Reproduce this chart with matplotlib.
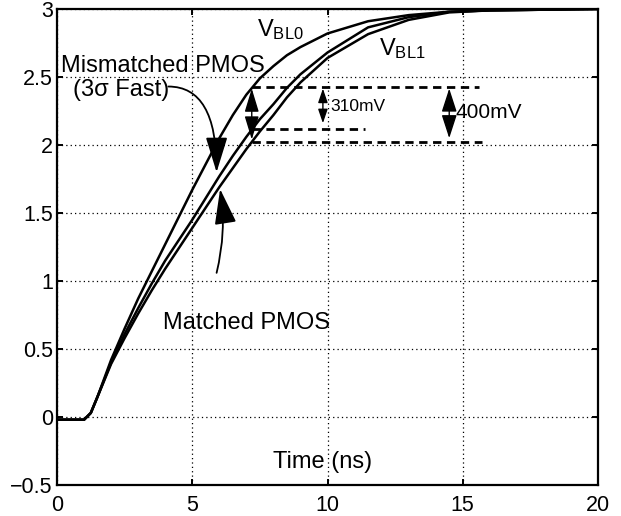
import matplotlib
matplotlib.use("Agg")
import matplotlib.pyplot as plt

plt.rcParams['font.family'] = ['Liberation Sans', 'DejaVu Sans']
plt.rcParams['mathtext.fontset'] = 'custom'
plt.rcParams['mathtext.rm'] = 'Liberation Sans'
plt.rcParams['mathtext.it'] = 'Liberation Sans:italic'
plt.rcParams['axes.unicode_minus'] = True

# ---- data ----
time_ns = [0, 0.5, 1.0, 1.25, 1.5, 2.0, 2.5, 3.0, 3.5, 4.0, 4.5, 5.0, 5.5, 6.0,
           6.5, 7.0, 7.5, 8.0, 8.5, 9.0, 10.0, 11.5, 13.0, 14.5, 16.0, 18.0, 20.0]
v_mismatched = [-0.02, -0.02, -0.02, 0.03, 0.15, 0.42, 0.65, 0.87, 1.07, 1.27, 1.47,
                1.67, 1.86, 2.05, 2.22, 2.37, 2.49, 2.58, 2.66, 2.72, 2.82, 2.91,
                2.955, 2.98, 2.99, 2.995, 3.0]
v_matched_bl0 = [-0.02, -0.02, -0.02, 0.03, 0.15, 0.40, 0.61, 0.80, 0.98, 1.15, 1.30,
                 1.45, 1.61, 1.77, 1.92, 2.06, 2.19, 2.30, 2.42, 2.52, 2.68, 2.865,
                 2.94, 2.98, 2.99, 2.995, 3.0]
v_matched_bl1 = [-0.02, -0.02, -0.02, 0.03, 0.15, 0.39, 0.58, 0.76, 0.93, 1.09, 1.24,
                 1.39, 1.54, 1.69, 1.83, 1.97, 2.10, 2.22, 2.35, 2.46, 2.64, 2.815,
                 2.92, 2.975, 2.99, 2.995, 3.0]

x_ticks = [0, 5, 10, 15, 20]
x_tick_labels = ["0", "5", "10", "15", "20"]
y_ticks = [-0.5, 0, 0.5, 1, 1.5, 2, 2.5, 3]
y_tick_labels = ["\u22120.5", "0", "0.5", "1", "1.5", "2", "2.5", "3"]

# reference levels (V) and their time extents (ns)
level_top, level_mid, level_bot = 2.43, 2.12, 2.02
level_top_x = (7.2, 15.6)
level_mid_x = (7.2, 11.4)
level_bot_x = (7.2, 15.7)
meas_t = 7.2
diff_small_t = 9.83
diff_large_t = 14.5

fig = plt.figure(figsize=(6.21, 5.16), dpi=100)
ax = fig.add_axes([57 / 621, 1 - 485 / 516, 541 / 621, 476 / 516])

for v in (v_mismatched, v_matched_bl0, v_matched_bl1):
    ax.plot(time_ns, v, color='k', lw=1.8, solid_joinstyle='round', zorder=3)

ax.set_xlim(0, 20)
ax.set_ylim(-0.5, 3)
ax.set_xticks(x_ticks)
ax.set_xticklabels(x_tick_labels)
ax.set_yticks(y_ticks)
ax.set_yticklabels(y_tick_labels)
ax.tick_params(direction='in', length=4, width=1.4, labelsize=15.5,
               top=True, right=True)
ax.tick_params(axis='x', pad=7)
ax.tick_params(axis='y', pad=3)
for s in ax.spines.values():
    s.set_linewidth(1.6)
ax.grid(True, color='k', linestyle=(0, (1, 2.5)), lw=0.9)
ax.set_axisbelow(True)

# dashed reference lines
dash = dict(color='k', lw=2.0, linestyle=(0, (3, 2)), zorder=4)
ax.plot(level_top_x, [level_top, level_top], **dash)
ax.plot(level_mid_x, [level_mid, level_mid], **dash)
ax.plot(level_bot_x, [level_bot, level_bot], **dash)

def dbl_arrow(x, y0, y1, hl, hw, lw=1.0):
    ax.annotate('', xy=(x, y1), xytext=(x, y0),
                arrowprops=dict(arrowstyle='<|-|>,head_length=%g,head_width=%g' % (hl, hw),
                                color='k', lw=lw, shrinkA=0, shrinkB=0,
                                mutation_scale=10), zorder=5)

dbl_arrow(meas_t, 2.415, 2.04, 1.45, 0.44)
dbl_arrow(diff_small_t, 2.415, 2.16, 0.85, 0.29)
dbl_arrow(diff_large_t, 2.415, 2.05, 1.45, 0.47)

# labels
fs = 17
ax.text(3.9, 2.54, "Mismatched PMOS", fontsize=fs, ha='center', va='baseline')
ax.text(2.37, 2.36, "(3\u03c3 Fast)", fontsize=fs, ha='center', va='baseline')
ax.text(3.91, 0.645, "Matched PMOS", fontsize=fs, ha='left', va='baseline')
ax.text(8.0, -0.377, "Time (ns)", fontsize=fs, ha='left', va='baseline')
ax.text(7.38, 2.80, r"$\mathrm{V}_{\mathrm{BL0}}$", fontsize=fs, ha='left', va='baseline')
ax.text(11.9, 2.662, r"$\mathrm{V}_{\mathrm{BL1}}$", fontsize=fs, ha='left', va='baseline')
ax.text(10.1, 2.25, "310mV", fontsize=12.5, ha='left', va='baseline')
ax.text(14.75, 2.20, "400mV", fontsize=15, ha='left', va='baseline')

# curved pointer arrows
ax.annotate('', xy=(5.90, 1.80), xytext=(4.12, 2.43),
            arrowprops=dict(arrowstyle='-|>,head_length=2.2,head_width=0.68',
                            connectionstyle='angle3,angleA=0,angleB=90',
                            color='k', lw=1.3, shrinkA=0, shrinkB=0,
                            mutation_scale=10), zorder=6)
ax.annotate('', xy=(6.03, 1.676), xytext=(5.90, 1.06),
            arrowprops=dict(arrowstyle='-|>,head_length=2.2,head_width=0.68',
                            connectionstyle='arc3,rad=0.1',
                            color='k', lw=1.3, shrinkA=0, shrinkB=0,
                            mutation_scale=10), zorder=6)

fig.savefig("out.png", dpi=100)
